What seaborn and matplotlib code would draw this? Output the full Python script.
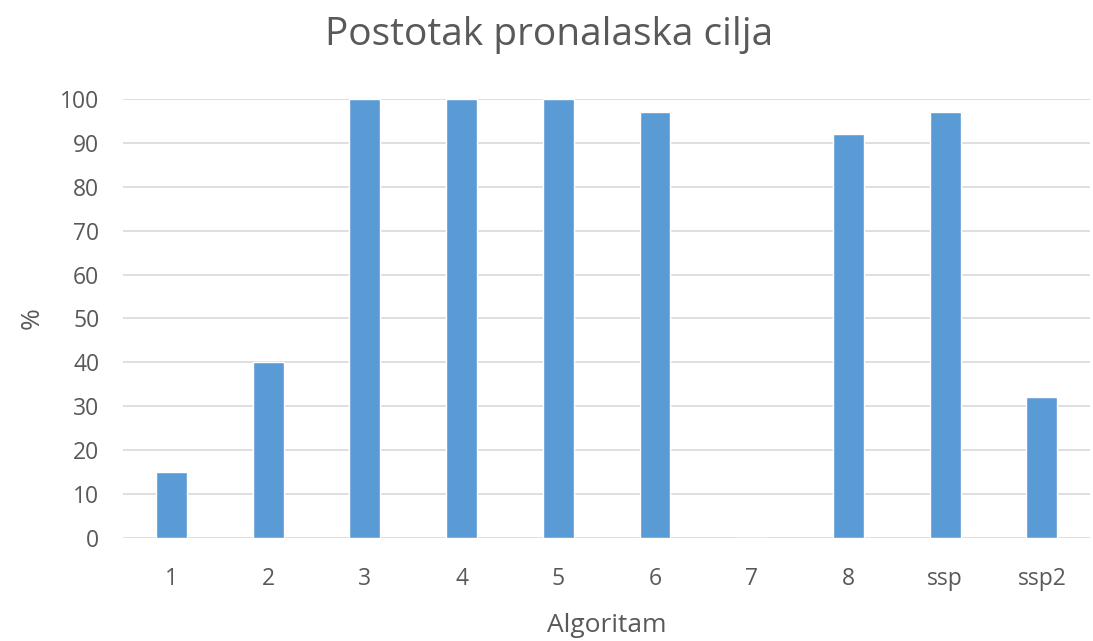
import matplotlib
matplotlib.use('Agg')
import matplotlib.pyplot as plt
import seaborn as sns
import pandas as pd

algoritmi = ['1', '2', '3', '4', '5', '6', '7', '8', 'ssp', 'ssp2']
postotak = [15, 40, 100, 100, 100, 97, 0, 92, 97, 32]

sns.set_style('white')
plt.rcParams['font.family'] = ['Open Sans', 'DejaVu Sans']

df = pd.DataFrame({'Algoritam': algoritmi, 'Postotak': postotak})

fig = plt.figure(figsize=(10.93, 6.41), dpi=100)
ax = fig.add_axes([0.1125, 0.1607, 0.885, 0.685])
sns.barplot(data=df, x='Algoritam', y='Postotak', color='#5B9BD5', width=0.32,
            saturation=1, ax=ax, zorder=3)

ax.set_ylim(0, 100)
ax.set_xlim(-0.5, len(algoritmi) - 0.5)
ax.set_yticks(range(0, 101, 10))
ax.yaxis.grid(True, color='#D9D9D9', linewidth=1.2, zorder=0)
ax.set_axisbelow(True)
for s in ax.spines.values():
    s.set_visible(False)
ax.tick_params(axis='both', length=0, labelsize=16.5, colors='#595959')
ax.tick_params(axis='y', pad=17)
ax.tick_params(axis='x', pad=21)

fig.suptitle('Postotak pronalaska cilja', fontsize=28, color='#595959',
             x=0.502, y=1 - 35 / 641, va='center')
ax.set_xlabel('Algoritam', fontsize=19, color='#595959', labelpad=16)
ax.set_ylabel('%', fontsize=19, color='#595959', labelpad=11)

plt.savefig('out.png', dpi=100)
plt.close()
